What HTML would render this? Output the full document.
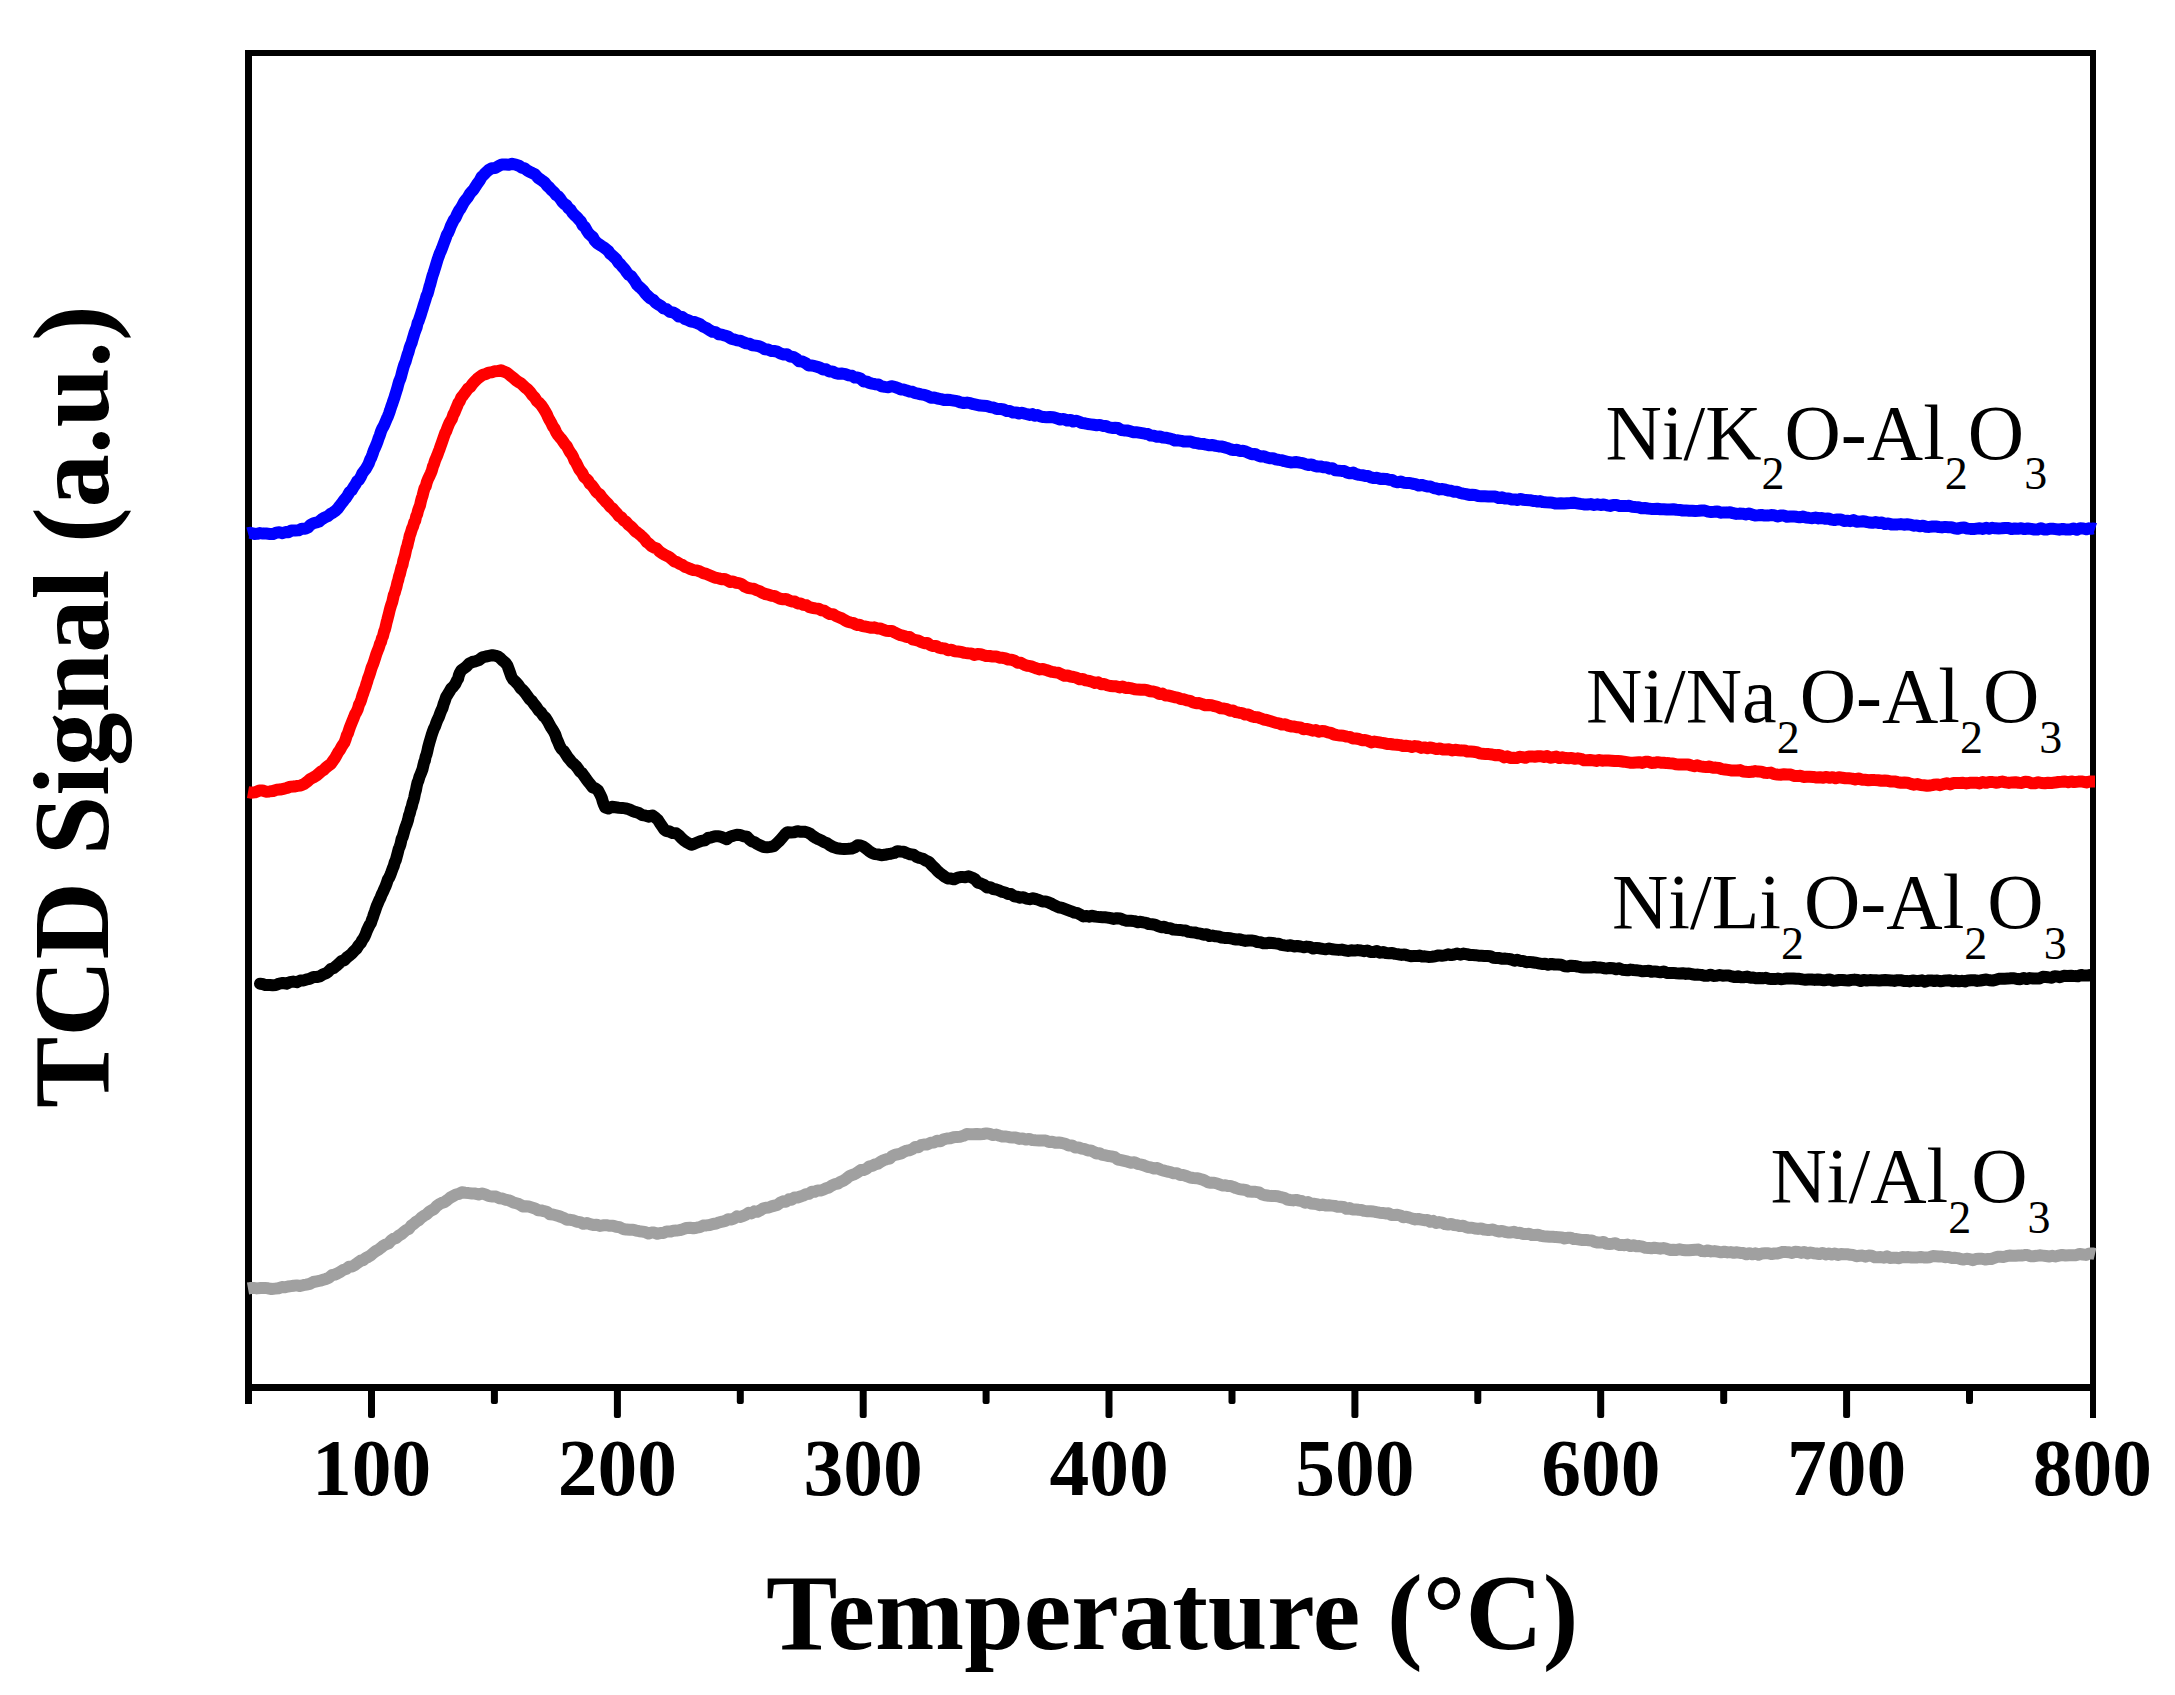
<!DOCTYPE html>
<html><head><meta charset="utf-8"><title>TCD Signal vs Temperature</title>
<style>html,body{margin:0;padding:0;background:#fff;}svg{display:block;}</style>
</head><body>
<svg width="2175" height="1695" viewBox="0 0 2175 1695">
<rect width="2175" height="1695" fill="#fff"/>
<g fill="#000">
<rect x="245" y="50" width="7" height="1354"/>
<rect x="245" y="50" width="1851" height="6"/>
<rect x="2090" y="50" width="6" height="1368"/>
<rect x="245" y="1384" width="1851" height="7"/>
<rect x="368.0" y="1388" width="7" height="30" rx="2"/>
<rect x="613.9" y="1388" width="7" height="30" rx="2"/>
<rect x="859.7" y="1388" width="7" height="30" rx="2"/>
<rect x="1105.5" y="1388" width="7" height="30" rx="2"/>
<rect x="1351.4" y="1388" width="7" height="30" rx="2"/>
<rect x="1597.2" y="1388" width="7" height="30" rx="2"/>
<rect x="1843.1" y="1388" width="7" height="30" rx="2"/>
<rect x="490.9" y="1388" width="7" height="16" rx="2"/>
<rect x="736.8" y="1388" width="7" height="16" rx="2"/>
<rect x="982.6" y="1388" width="7" height="16" rx="2"/>
<rect x="1228.5" y="1388" width="7" height="16" rx="2"/>
<rect x="1474.3" y="1388" width="7" height="16" rx="2"/>
<rect x="1720.2" y="1388" width="7" height="16" rx="2"/>
<rect x="1966.0" y="1388" width="7" height="16" rx="2"/>
</g>
<path d="M248.0,1288.5 L250.2,1288.1 L253.3,1287.9 L256.9,1288.4 L260.8,1288.0 L264.6,1287.9 L268.0,1288.3 L271.6,1289.0 L275.1,1288.6 L278.5,1288.2 L281.8,1287.1 L285.0,1287.3 L288.0,1286.5 L290.9,1286.1 L293.7,1285.7 L296.7,1285.4 L300.0,1286.0 L303.1,1285.2 L306.3,1284.6 L309.8,1283.8 L313.3,1282.0 L316.8,1281.3 L320.2,1280.7 L323.1,1279.8 L326.0,1278.9 L328.9,1277.7 L331.8,1275.2 L334.7,1274.6 L337.6,1273.4 L340.5,1271.7 L343.4,1269.8 L346.3,1268.8 L349.2,1266.7 L352.0,1266.5 L354.9,1264.9 L357.8,1262.7 L360.7,1260.7 L363.2,1260.1 L365.7,1258.0 L368.3,1256.9 L370.8,1255.2 L373.3,1253.0 L375.8,1251.1 L378.4,1249.7 L380.9,1247.8 L383.4,1245.7 L386.0,1244.3 L388.5,1243.4 L391.1,1240.5 L393.6,1238.8 L396.1,1238.0 L398.7,1235.7 L401.2,1234.3 L403.7,1232.2 L406.3,1230.0 L408.8,1229.0 L411.3,1225.7 L413.8,1223.9 L416.4,1221.5 L418.9,1220.2 L421.4,1217.6 L423.9,1215.8 L426.4,1214.5 L429.0,1211.9 L431.5,1210.4 L434.0,1209.1 L436.6,1206.1 L439.1,1204.3 L441.6,1203.0 L444.5,1202.0 L447.4,1200.0 L450.3,1197.6 L453.1,1196.1 L456.0,1194.5 L458.9,1193.8 L461.8,1192.3 L465.2,1192.8 L468.6,1193.1 L472.0,1193.5 L475.3,1193.6 L478.7,1194.5 L482.1,1193.5 L485.5,1194.5 L489.0,1196.1 L492.5,1196.5 L495.9,1196.6 L499.2,1198.2 L502.3,1198.5 L505.5,1199.8 L508.2,1200.1 L510.8,1201.1 L513.8,1202.7 L517.5,1203.5 L520.0,1204.7 L522.7,1206.4 L525.6,1206.2 L528.7,1206.5 L531.8,1207.4 L535.0,1208.4 L538.1,1210.2 L541.1,1210.4 L544.0,1211.2 L547.0,1211.8 L550.0,1214.3 L552.9,1214.5 L555.7,1215.2 L558.5,1216.0 L561.3,1217.0 L564.1,1218.1 L567.0,1219.8 L570.3,1219.8 L573.6,1220.4 L576.9,1221.8 L580.1,1222.1 L583.4,1223.8 L586.7,1223.0 L590.0,1224.1 L593.3,1225.0 L596.6,1224.7 L599.9,1225.9 L603.1,1225.3 L606.4,1225.2 L609.7,1225.8 L613.0,1225.7 L616.3,1226.8 L619.7,1227.2 L623.1,1229.0 L626.5,1229.6 L629.8,1229.8 L633.0,1229.7 L636.0,1230.6 L639.3,1231.2 L642.5,1231.6 L645.5,1232.2 L648.5,1233.6 L651.3,1232.6 L654.2,1232.6 L657.4,1233.8 L660.5,1232.9 L663.5,1233.0 L666.7,1231.4 L670.3,1231.6 L673.2,1230.8 L676.4,1230.6 L679.7,1230.1 L683.1,1229.2 L686.5,1228.0 L690.0,1227.7 L693.3,1228.2 L696.6,1227.7 L699.9,1227.1 L703.1,1225.6 L706.4,1225.4 L709.7,1225.0 L713.0,1224.0 L716.3,1223.5 L719.2,1222.3 L722.2,1221.7 L725.2,1220.9 L728.1,1219.3 L731.1,1219.5 L734.1,1218.6 L737.1,1216.3 L740.0,1216.9 L742.9,1216.0 L745.8,1214.7 L748.7,1212.8 L751.5,1213.4 L754.4,1211.3 L757.3,1211.8 L760.1,1210.4 L763.0,1208.5 L765.9,1207.7 L768.8,1207.5 L771.6,1206.4 L774.5,1205.6 L777.4,1204.9 L780.2,1202.7 L783.1,1201.3 L786.0,1201.8 L788.9,1199.3 L791.8,1199.7 L794.6,1197.4 L797.5,1197.5 L800.4,1196.5 L803.2,1195.6 L806.1,1194.1 L809.0,1193.7 L811.9,1191.7 L814.8,1191.7 L817.6,1190.4 L820.5,1190.6 L823.4,1189.6 L826.2,1188.3 L829.1,1187.4 L832.0,1185.4 L834.9,1184.1 L837.8,1183.6 L840.6,1181.8 L843.5,1180.7 L846.4,1178.6 L849.2,1176.2 L852.1,1174.9 L855.0,1174.0 L857.9,1172.2 L860.8,1170.1 L863.6,1170.1 L866.5,1168.8 L869.4,1166.3 L872.2,1165.8 L875.1,1164.3 L878.0,1163.7 L880.9,1161.6 L883.8,1160.1 L886.6,1159.2 L889.5,1158.7 L892.4,1155.9 L895.2,1154.7 L898.1,1154.3 L901.0,1153.5 L903.9,1151.8 L906.8,1150.6 L909.6,1150.2 L912.5,1149.0 L915.4,1146.9 L918.2,1147.2 L921.1,1145.2 L924.0,1144.5 L927.3,1144.4 L930.6,1142.8 L933.9,1142.6 L937.1,1140.8 L940.4,1141.2 L943.7,1139.3 L947.0,1138.5 L950.3,1138.3 L953.6,1137.3 L956.9,1136.9 L960.1,1136.7 L963.4,1135.8 L966.7,1134.1 L970.0,1134.2 L973.3,1134.3 L976.6,1134.0 L979.9,1134.3 L983.1,1134.0 L986.4,1133.4 L989.7,1133.9 L993.0,1135.1 L996.3,1134.6 L999.6,1135.7 L1002.9,1136.6 L1006.1,1136.5 L1009.4,1137.2 L1012.7,1137.6 L1016.0,1137.6 L1019.3,1138.9 L1022.6,1138.5 L1025.9,1139.6 L1029.1,1138.9 L1032.4,1140.1 L1035.7,1140.3 L1039.0,1140.4 L1042.3,1140.5 L1045.6,1140.5 L1048.9,1141.9 L1052.1,1141.8 L1055.4,1142.8 L1058.7,1142.5 L1062.0,1143.0 L1065.3,1143.8 L1068.6,1145.6 L1071.9,1145.4 L1075.1,1147.4 L1078.4,1147.4 L1081.7,1148.6 L1085.0,1149.2 L1087.9,1150.4 L1090.8,1150.4 L1093.6,1151.8 L1096.5,1153.5 L1099.4,1153.2 L1102.2,1154.9 L1105.1,1155.2 L1108.0,1156.0 L1111.3,1156.4 L1114.6,1157.2 L1117.9,1159.5 L1121.1,1160.1 L1124.4,1160.9 L1127.7,1161.7 L1131.0,1162.7 L1134.3,1162.3 L1137.6,1163.8 L1140.9,1164.5 L1144.1,1165.4 L1147.4,1166.8 L1150.7,1167.4 L1154.0,1168.5 L1157.3,1168.0 L1160.6,1169.7 L1163.9,1170.6 L1167.1,1171.5 L1170.4,1172.1 L1173.7,1173.3 L1177.0,1173.3 L1180.3,1175.1 L1183.6,1175.1 L1186.9,1176.2 L1190.1,1177.5 L1193.4,1178.0 L1196.7,1178.2 L1200.0,1178.9 L1203.0,1179.8 L1205.6,1181.0 L1208.2,1182.3 L1210.9,1182.8 L1214.1,1182.8 L1218.0,1183.8 L1223.0,1185.6 L1225.3,1185.3 L1227.7,1186.0 L1230.4,1186.0 L1233.2,1186.9 L1236.1,1188.1 L1239.2,1189.1 L1242.3,1189.6 L1245.6,1189.9 L1248.9,1191.6 L1252.2,1191.8 L1255.5,1191.8 L1258.9,1192.4 L1262.2,1194.5 L1265.5,1195.3 L1268.7,1195.8 L1271.8,1196.0 L1274.9,1196.1 L1277.8,1196.3 L1281.0,1197.2 L1284.1,1197.8 L1287.2,1199.5 L1290.2,1200.0 L1293.3,1200.4 L1296.2,1199.9 L1299.2,1200.6 L1302.1,1201.2 L1305.1,1202.8 L1308.0,1202.0 L1310.9,1203.5 L1313.8,1203.8 L1316.7,1204.1 L1319.7,1205.2 L1322.6,1204.6 L1325.6,1205.4 L1328.6,1205.3 L1331.6,1205.6 L1334.6,1205.9 L1337.5,1206.7 L1340.5,1206.8 L1343.5,1207.0 L1346.5,1208.8 L1349.5,1208.1 L1352.5,1209.4 L1355.5,1209.4 L1358.5,1209.8 L1361.4,1210.0 L1364.4,1210.9 L1367.4,1211.2 L1370.4,1211.3 L1373.4,1211.5 L1376.4,1212.2 L1379.4,1212.7 L1382.4,1212.9 L1385.4,1213.4 L1388.4,1213.3 L1391.4,1215.0 L1394.4,1214.9 L1397.4,1214.8 L1400.4,1215.5 L1403.3,1217.2 L1406.3,1216.8 L1409.3,1217.6 L1412.3,1218.6 L1415.3,1219.4 L1418.3,1219.0 L1421.3,1219.6 L1424.3,1220.2 L1427.3,1220.0 L1430.3,1221.8 L1433.2,1220.9 L1436.2,1222.9 L1439.2,1222.1 L1442.2,1222.6 L1445.1,1224.1 L1448.1,1224.5 L1451.1,1224.0 L1454.1,1225.0 L1457.1,1225.3 L1460.0,1226.1 L1463.0,1225.7 L1466.0,1227.1 L1469.0,1227.8 L1472.0,1227.7 L1475.0,1228.5 L1478.0,1228.9 L1481.0,1228.4 L1484.0,1229.5 L1487.0,1229.9 L1489.9,1229.9 L1492.9,1229.5 L1495.9,1230.7 L1498.9,1231.5 L1501.9,1230.9 L1504.9,1231.8 L1507.9,1232.5 L1510.9,1232.4 L1513.9,1231.8 L1516.9,1233.1 L1519.9,1232.8 L1522.9,1234.1 L1525.9,1234.1 L1528.9,1233.8 L1531.8,1235.1 L1534.8,1234.9 L1537.8,1234.8 L1540.8,1235.8 L1543.8,1236.2 L1546.8,1236.5 L1549.8,1236.8 L1552.8,1236.7 L1555.7,1237.1 L1558.7,1237.2 L1561.7,1237.4 L1564.7,1238.5 L1567.7,1237.8 L1570.7,1237.7 L1573.7,1239.1 L1576.7,1239.1 L1579.6,1239.6 L1582.6,1240.1 L1585.6,1239.9 L1588.6,1240.2 L1591.6,1240.4 L1594.6,1241.9 L1597.6,1242.5 L1600.5,1242.6 L1603.5,1242.0 L1606.5,1243.8 L1609.5,1243.9 L1612.5,1243.7 L1615.5,1243.2 L1618.5,1244.9 L1621.5,1244.9 L1624.5,1245.2 L1627.4,1244.6 L1630.4,1246.1 L1633.4,1245.3 L1636.4,1246.3 L1639.4,1246.1 L1642.4,1246.7 L1645.4,1247.8 L1648.3,1247.9 L1651.3,1248.3 L1654.3,1247.7 L1657.3,1248.1 L1660.3,1248.7 L1663.5,1248.0 L1666.7,1248.8 L1669.9,1249.9 L1673.1,1249.7 L1676.3,1250.0 L1679.5,1249.2 L1682.6,1250.0 L1685.8,1250.3 L1689.0,1250.3 L1692.2,1250.0 L1695.4,1249.7 L1698.6,1249.6 L1701.8,1251.1 L1704.9,1251.3 L1708.1,1250.4 L1711.3,1251.4 L1714.5,1251.1 L1717.7,1251.7 L1721.0,1252.3 L1724.2,1251.7 L1727.5,1252.4 L1730.7,1252.1 L1733.9,1252.8 L1737.1,1252.3 L1740.3,1252.9 L1743.4,1253.1 L1746.5,1254.3 L1749.4,1253.2 L1752.4,1254.3 L1755.2,1253.3 L1758.6,1254.8 L1761.9,1253.4 L1765.1,1253.2 L1768.2,1253.2 L1771.3,1254.1 L1774.3,1253.5 L1777.2,1253.6 L1780.1,1252.7 L1783.0,1251.9 L1786.0,1252.1 L1789.0,1252.2 L1792.0,1253.0 L1795.1,1251.7 L1798.1,1251.9 L1801.2,1252.9 L1804.2,1251.9 L1807.3,1253.4 L1810.4,1252.5 L1813.4,1253.2 L1816.5,1253.5 L1819.5,1254.1 L1822.6,1253.0 L1825.6,1254.4 L1828.7,1253.5 L1831.8,1254.5 L1834.8,1253.6 L1837.9,1254.9 L1841.0,1254.1 L1844.0,1254.3 L1847.1,1254.2 L1850.2,1254.8 L1853.2,1255.0 L1856.3,1256.2 L1859.4,1255.8 L1862.4,1255.5 L1865.5,1256.7 L1868.6,1255.5 L1871.6,1255.8 L1874.7,1257.2 L1877.8,1257.3 L1880.8,1257.1 L1883.9,1257.7 L1887.0,1256.4 L1890.0,1257.9 L1893.1,1257.8 L1896.2,1257.8 L1899.2,1258.2 L1902.3,1257.1 L1905.4,1257.2 L1908.4,1257.1 L1911.5,1257.5 L1914.5,1257.5 L1917.6,1257.4 L1920.6,1257.0 L1923.7,1257.4 L1926.8,1257.5 L1929.8,1257.2 L1932.9,1256.0 L1935.9,1256.2 L1939.0,1256.4 L1942.1,1256.5 L1945.1,1257.2 L1948.2,1256.9 L1951.3,1257.9 L1954.4,1257.7 L1957.5,1258.1 L1960.5,1259.0 L1963.6,1259.6 L1966.7,1258.7 L1969.8,1259.1 L1972.8,1260.3 L1975.9,1259.0 L1979.0,1258.7 L1982.0,1258.7 L1985.1,1259.5 L1988.1,1259.0 L1991.2,1259.0 L1994.3,1257.9 L1997.3,1256.7 L2000.4,1256.8 L2003.4,1257.0 L2006.5,1256.2 L2009.5,1255.5 L2012.6,1255.7 L2015.6,1255.7 L2018.6,1255.5 L2021.6,1255.6 L2024.5,1255.1 L2027.5,1255.0 L2030.4,1256.2 L2033.4,1256.2 L2036.5,1255.8 L2039.6,1255.3 L2042.8,1255.6 L2046.0,1256.0 L2049.4,1256.5 L2052.3,1255.8 L2055.4,1256.5 L2058.7,1255.7 L2062.1,1255.0 L2065.6,1255.5 L2069.2,1255.3 L2072.7,1255.2 L2076.2,1255.2 L2079.6,1254.0 L2082.9,1254.5 L2085.9,1254.9 L2088.7,1253.7 L2091.1,1253.4 L2093.3,1253.6 L2095.0,1254.0" fill="none" stroke="#a0a0a0" stroke-width="12" stroke-linejoin="round"/>
<path d="M260.0,983.7 L262.2,983.9 L265.5,985.1 L269.9,985.1 L272.6,985.3 L275.8,985.0 L279.2,983.6 L282.8,983.0 L286.4,983.7 L289.8,982.2 L293.2,981.6 L296.7,982.2 L300.2,980.6 L303.6,980.5 L306.8,979.3 L309.7,978.8 L313.5,977.1 L316.8,977.0 L319.8,976.4 L323.0,974.4 L325.7,973.4 L328.3,971.7 L331.0,968.9 L333.6,968.1 L336.3,965.9 L339.0,963.5 L341.7,961.0 L344.4,960.2 L347.0,957.4 L349.5,955.5 L351.9,953.4 L354.2,950.9 L356.5,948.8 L358.7,945.3 L360.8,943.0 L362.3,940.0 L363.8,938.0 L365.3,935.1 L366.8,930.9 L368.2,927.9 L369.5,925.1 L370.8,923.3 L372.0,919.7 L373.0,917.1 L374.0,913.8 L375.0,911.2 L376.0,908.2 L377.0,905.3 L378.1,902.8 L379.3,900.0 L380.5,897.7 L381.7,894.5 L383.0,892.0 L384.2,889.1 L385.5,886.4 L386.7,883.1 L387.9,879.4 L389.1,877.7 L390.3,875.0 L391.4,872.1 L392.6,868.7 L393.7,866.1 L394.7,862.4 L395.8,860.1 L396.8,856.4 L397.8,852.6 L398.7,848.9 L399.6,846.9 L400.6,843.8 L401.6,839.0 L402.7,836.8 L403.8,832.9 L404.8,829.2 L405.9,826.1 L406.9,823.5 L407.9,820.4 L408.9,815.7 L409.8,813.3 L410.8,809.1 L411.7,806.9 L412.6,802.9 L413.5,800.4 L414.3,797.1 L415.1,792.9 L415.9,790.3 L416.7,786.0 L417.5,782.6 L418.5,780.3 L419.5,776.6 L420.5,774.3 L421.5,771.9 L422.5,769.2 L423.3,765.6 L424.1,762.3 L424.9,760.5 L425.7,756.4 L426.6,754.2 L427.4,750.9 L428.2,747.0 L429.0,744.1 L429.8,741.2 L430.7,738.3 L431.6,735.2 L432.6,732.1 L433.7,729.1 L435.0,726.6 L436.3,722.8 L437.6,719.6 L438.9,717.0 L440.2,713.2 L441.4,710.2 L442.5,708.1 L443.6,704.1 L444.8,701.1 L446.0,697.2 L447.3,695.1 L449.1,692.2 L451.2,688.5 L453.2,686.7 L455.2,684.1 L456.8,680.7 L458.1,678.6 L458.8,675.5 L459.7,673.2 L461.4,670.1 L463.6,668.6 L466.3,666.7 L469.2,663.6 L472.3,662.0 L475.2,661.4 L478.8,660.1 L482.4,657.4 L485.9,656.5 L489.0,655.9 L492.4,655.2 L495.3,655.6 L498.2,656.7 L500.6,658.4 L503.1,660.9 L505.5,662.9 L507.4,665.5 L508.9,669.6 L509.8,672.1 L511.5,676.9 L513.3,679.8 L515.6,681.8 L518.1,684.5 L520.6,688.3 L523.0,690.2 L525.2,692.9 L527.4,696.0 L529.6,699.2 L531.8,701.0 L534.0,704.1 L536.3,706.9 L538.7,710.5 L541.1,712.6 L543.4,716.0 L545.5,717.7 L547.4,720.7 L549.2,724.0 L550.8,727.1 L552.3,729.2 L553.8,731.6 L555.4,734.8 L556.7,738.9 L558.1,741.8 L559.8,746.2 L561.5,749.0 L563.5,750.7 L565.5,753.6 L567.7,757.2 L569.9,759.7 L571.8,762.3 L573.9,764.0 L576.0,766.0 L578.0,768.6 L580.0,771.6 L581.8,772.9 L584.1,776.0 L586.1,778.9 L588.0,781.5 L590.1,784.1 L592.6,787.3 L595.4,788.3 L598.0,790.4 L600.2,794.5 L601.7,797.7 L602.8,801.7 L603.8,804.4 L605.3,807.6 L608.3,808.5 L611.8,806.8 L615.4,807.3 L618.8,807.7 L622.1,807.9 L625.5,808.4 L628.9,809.3 L632.2,810.8 L635.6,812.1 L639.0,813.1 L642.3,815.1 L645.7,815.7 L649.1,816.7 L652.5,815.5 L655.9,818.1 L657.9,819.9 L659.9,823.1 L662.0,826.2 L664.0,829.2 L666.0,830.8 L669.4,831.5 L672.7,833.1 L676.1,833.2 L678.7,835.2 L681.5,838.2 L684.0,840.3 L686.2,841.9 L691.3,844.7 L694.3,843.7 L697.8,842.3 L701.4,840.9 L704.8,840.3 L708.1,838.0 L711.5,837.3 L715.1,836.2 L718.6,836.2 L721.6,837.1 L726.7,839.3 L729.7,836.9 L733.2,835.7 L736.8,834.7 L740.2,834.9 L743.5,836.3 L746.9,836.7 L749.4,839.3 L752.0,841.5 L754.5,842.1 L757.0,843.9 L760.4,845.5 L763.7,847.0 L767.1,847.3 L770.5,846.9 L773.8,846.2 L777.2,843.0 L779.7,840.6 L782.3,837.6 L784.9,834.5 L787.4,832.2 L790.8,832.5 L794.1,832.3 L797.5,831.2 L800.8,831.8 L804.2,831.7 L807.6,832.5 L810.3,833.9 L813.0,836.1 L815.8,837.9 L818.6,839.3 L821.4,840.5 L824.1,842.1 L826.9,843.1 L829.7,845.1 L833.4,847.1 L837.0,848.2 L840.7,848.7 L844.4,849.0 L848.2,848.8 L851.7,848.5 L854.7,847.4 L857.6,845.2 L860.6,845.5 L863.2,846.5 L865.8,848.4 L868.6,850.7 L871.6,852.7 L874.7,854.1 L877.9,854.4 L881.3,855.2 L884.8,854.8 L887.8,854.1 L890.9,853.7 L894.2,853.0 L897.3,851.2 L900.3,851.5 L903.7,851.7 L906.9,853.2 L910.1,854.3 L913.5,854.7 L916.5,856.8 L919.8,858.0 L923.0,858.8 L926.2,860.8 L929.0,862.0 L932.1,865.5 L934.8,867.9 L937.4,870.9 L940.0,873.1 L942.6,875.0 L945.1,877.0 L947.8,878.4 L951.0,878.6 L954.1,879.3 L957.7,877.6 L961.5,876.9 L965.2,877.3 L968.7,876.3 L971.9,877.5 L975.0,879.3 L978.0,882.7 L981.1,883.6 L984.1,885.0 L987.2,887.5 L990.2,887.2 L993.2,889.0 L996.4,889.5 L999.6,890.7 L1002.4,891.9 L1005.2,892.5 L1008.0,894.0 L1011.0,894.0 L1014.1,896.3 L1017.3,896.8 L1020.2,897.7 L1023.3,897.2 L1026.4,898.6 L1029.6,899.2 L1032.9,898.2 L1036.1,899.1 L1039.3,900.2 L1042.5,901.5 L1045.6,901.6 L1048.8,902.6 L1051.9,903.9 L1055.1,905.7 L1058.2,907.2 L1061.4,907.7 L1064.6,908.9 L1067.9,910.1 L1071.2,911.3 L1074.4,912.6 L1077.6,913.2 L1080.6,914.8 L1083.5,916.4 L1086.8,916.0 L1089.5,916.7 L1092.1,915.7 L1095.4,916.6 L1100.0,917.1 L1102.4,917.2 L1105.0,917.3 L1107.7,917.6 L1110.7,918.2 L1113.7,918.9 L1116.9,918.2 L1120.3,918.5 L1123.7,920.0 L1127.1,920.8 L1130.7,920.7 L1134.2,921.1 L1137.8,922.2 L1140.5,921.8 L1143.3,922.4 L1146.1,922.9 L1149.0,924.1 L1152.0,924.3 L1155.0,924.7 L1158.0,926.1 L1161.1,927.2 L1164.1,926.8 L1167.2,928.1 L1170.3,928.3 L1173.4,929.6 L1176.5,929.8 L1179.6,929.9 L1182.6,930.4 L1185.6,930.6 L1188.6,931.9 L1191.6,932.2 L1194.6,932.4 L1197.5,933.2 L1200.5,933.6 L1203.5,934.8 L1206.5,934.2 L1209.5,936.0 L1212.5,935.6 L1215.5,936.3 L1218.5,936.5 L1221.4,937.5 L1224.4,937.9 L1227.4,937.9 L1230.4,938.2 L1233.4,939.0 L1236.4,939.6 L1239.4,939.2 L1242.4,940.2 L1245.4,940.9 L1248.4,940.5 L1251.4,940.5 L1254.4,940.9 L1257.4,942.0 L1260.4,942.3 L1263.3,943.2 L1266.3,943.3 L1269.3,942.7 L1272.3,943.0 L1275.3,943.4 L1278.3,943.7 L1281.3,944.8 L1284.5,945.4 L1287.7,945.9 L1290.8,945.2 L1294.0,946.5 L1297.2,946.0 L1300.4,946.5 L1303.6,947.3 L1306.7,946.6 L1309.9,947.0 L1313.1,948.5 L1316.3,947.9 L1319.5,948.3 L1322.6,948.9 L1325.8,949.3 L1329.0,948.5 L1332.2,949.3 L1335.4,949.6 L1338.6,949.9 L1341.8,949.6 L1345.0,950.3 L1348.2,951.0 L1351.3,950.3 L1354.5,950.6 L1357.7,950.1 L1360.9,950.5 L1364.1,951.2 L1367.3,950.5 L1370.5,951.9 L1373.7,952.1 L1376.9,951.1 L1379.9,952.7 L1383.0,952.0 L1386.0,953.0 L1389.1,953.3 L1392.2,952.9 L1395.4,953.9 L1398.5,954.3 L1401.6,954.9 L1404.6,954.4 L1407.7,955.5 L1410.7,956.2 L1413.6,956.0 L1416.5,956.1 L1419.3,955.6 L1422.0,956.4 L1424.7,956.3 L1428.4,956.9 L1431.9,956.7 L1435.3,956.3 L1438.6,955.4 L1441.8,955.8 L1444.9,955.4 L1448.0,954.3 L1451.1,955.1 L1454.1,954.5 L1457.3,953.5 L1460.5,954.8 L1463.5,953.6 L1466.5,954.1 L1469.5,954.9 L1472.5,955.0 L1475.5,955.2 L1478.4,955.7 L1481.4,955.7 L1484.4,955.9 L1487.4,956.1 L1490.4,956.3 L1493.4,957.7 L1496.4,958.1 L1499.4,958.1 L1502.4,958.8 L1505.4,958.6 L1508.4,958.9 L1511.4,959.5 L1514.4,960.7 L1517.3,959.8 L1520.3,961.0 L1523.3,961.0 L1526.3,962.2 L1529.3,961.9 L1532.3,962.2 L1535.5,962.7 L1538.7,963.3 L1541.9,964.0 L1545.1,963.7 L1548.2,964.8 L1551.4,963.9 L1554.6,964.5 L1557.9,964.5 L1561.2,964.8 L1564.6,966.2 L1568.1,966.4 L1571.1,965.7 L1574.3,965.9 L1577.5,966.5 L1580.7,967.2 L1584.0,967.5 L1587.4,967.6 L1590.7,967.6 L1594.0,967.0 L1597.3,967.6 L1600.6,967.5 L1603.8,968.2 L1607.0,968.4 L1610.0,968.0 L1613.2,968.3 L1616.2,969.3 L1619.2,968.3 L1622.1,969.7 L1624.9,970.0 L1627.7,970.3 L1630.6,969.6 L1633.5,970.0 L1636.4,970.3 L1639.5,970.6 L1642.7,971.3 L1646.0,971.1 L1648.8,970.7 L1651.6,971.8 L1654.6,971.4 L1657.5,971.8 L1660.6,972.3 L1663.7,971.4 L1666.8,972.9 L1670.0,972.9 L1673.1,972.9 L1676.3,973.2 L1679.5,973.4 L1682.6,973.2 L1685.8,973.9 L1688.9,973.4 L1692.0,974.3 L1695.1,974.7 L1698.1,974.6 L1701.2,974.9 L1704.3,975.7 L1707.3,975.8 L1710.4,974.7 L1713.5,975.9 L1716.5,975.8 L1719.6,975.0 L1722.7,975.7 L1725.7,975.6 L1728.8,975.5 L1731.9,976.4 L1734.9,977.1 L1738.0,976.3 L1741.1,977.3 L1744.1,977.2 L1747.2,976.5 L1750.3,977.8 L1753.3,977.6 L1756.4,978.3 L1759.5,978.1 L1762.5,978.3 L1765.6,977.8 L1768.7,978.7 L1771.7,979.1 L1774.8,979.1 L1777.9,978.6 L1780.9,979.2 L1784.0,978.9 L1787.1,978.4 L1790.1,978.4 L1793.2,978.5 L1796.3,978.8 L1799.3,978.8 L1802.4,979.4 L1805.5,979.8 L1808.5,979.6 L1811.6,979.5 L1814.7,979.9 L1817.7,979.5 L1820.8,979.8 L1823.9,980.3 L1826.9,979.8 L1830.0,979.5 L1833.1,980.7 L1836.1,980.5 L1839.2,980.0 L1842.3,980.0 L1845.3,980.3 L1848.4,980.5 L1851.5,979.9 L1854.5,979.6 L1857.6,980.0 L1860.7,981.0 L1863.7,980.0 L1866.8,980.5 L1869.9,980.1 L1872.9,980.2 L1876.0,980.2 L1879.1,980.6 L1882.1,980.2 L1885.2,980.1 L1888.3,980.2 L1891.3,980.4 L1894.4,980.9 L1897.5,980.2 L1900.5,980.2 L1903.6,980.9 L1906.7,980.9 L1909.7,981.4 L1912.8,980.4 L1915.9,980.9 L1918.9,980.9 L1922.0,980.3 L1925.1,981.8 L1928.1,980.6 L1931.2,980.4 L1934.3,981.0 L1937.3,980.5 L1940.4,981.3 L1943.5,980.8 L1946.5,980.4 L1949.6,980.3 L1952.7,981.3 L1955.7,980.6 L1958.8,981.3 L1961.9,980.8 L1964.9,981.5 L1968.0,980.4 L1971.1,980.2 L1974.1,980.2 L1977.2,980.9 L1980.3,980.5 L1983.3,980.0 L1986.4,979.5 L1989.5,980.3 L1992.5,980.6 L1995.6,979.9 L1998.7,978.8 L2001.7,978.7 L2004.8,978.7 L2007.9,978.6 L2010.9,978.3 L2014.0,978.2 L2017.1,979.0 L2020.3,979.3 L2023.5,978.0 L2026.7,979.1 L2029.9,978.1 L2033.2,978.5 L2036.4,978.5 L2039.6,978.4 L2042.8,976.8 L2045.9,977.0 L2048.9,977.4 L2051.8,977.7 L2054.7,976.2 L2057.4,976.4 L2060.0,977.2 L2063.8,975.8 L2067.5,976.0 L2071.1,975.7 L2074.6,976.1 L2077.9,976.3 L2080.9,974.9 L2083.7,975.6 L2086.2,975.5 L2088.3,975.5 L2090.0,974.9" fill="none" stroke="#000" stroke-width="12" stroke-linejoin="round" stroke-linecap="round"/>
<path d="M248.0,792.2 L250.8,792.7 L254.9,792.3 L259.2,790.6 L262.5,790.5 L265.9,791.7 L269.5,791.4 L273.0,791.0 L276.4,789.8 L279.9,789.6 L283.4,788.8 L286.8,788.0 L290.4,786.7 L294.0,786.6 L297.5,785.9 L300.6,785.6 L304.1,784.1 L307.1,781.8 L309.8,779.3 L313.2,777.5 L316.4,775.6 L318.7,773.6 L321.0,771.6 L323.6,769.9 L325.8,767.7 L328.3,765.7 L330.8,764.0 L333.4,760.3 L334.9,758.2 L336.6,755.3 L338.2,752.3 L339.9,750.0 L341.5,746.9 L342.9,744.7 L344.3,742.8 L345.7,739.2 L346.8,735.4 L347.9,733.4 L348.9,730.2 L350.0,727.0 L351.1,724.3 L352.4,721.0 L353.7,717.9 L355.1,714.2 L356.4,712.1 L357.8,709.0 L359.0,704.7 L360.2,702.5 L361.3,699.4 L362.3,695.9 L363.4,693.0 L364.4,689.9 L365.4,687.5 L366.4,683.9 L367.2,681.7 L368.1,678.3 L369.0,676.2 L370.1,672.9 L371.4,668.3 L372.3,666.0 L373.2,663.9 L374.3,660.6 L375.4,657.2 L376.5,653.6 L377.7,650.5 L378.8,647.9 L380.0,643.8 L381.0,641.9 L382.0,638.0 L382.9,636.3 L384.0,631.8 L384.9,629.6 L385.8,626.0 L386.5,622.7 L387.3,619.8 L388.0,617.0 L388.8,614.0 L389.6,610.5 L390.5,607.2 L391.3,604.6 L392.2,602.2 L393.0,598.6 L393.9,594.7 L394.8,592.8 L395.6,589.6 L396.5,586.8 L397.4,582.5 L398.2,580.3 L399.1,576.1 L399.9,574.0 L400.8,570.2 L401.6,567.1 L402.5,565.0 L403.3,560.7 L404.1,558.2 L404.9,555.5 L405.8,551.2 L406.6,547.9 L407.4,545.8 L408.2,542.0 L408.9,539.5 L409.7,535.8 L410.9,532.4 L412.0,528.7 L413.1,526.4 L414.2,522.4 L415.2,520.7 L416.2,516.2 L417.2,514.3 L418.1,510.3 L419.1,507.7 L420.0,505.5 L420.9,501.3 L421.7,498.2 L422.6,495.7 L423.5,491.9 L424.6,488.0 L425.7,486.5 L426.8,482.2 L428.1,478.9 L429.4,476.3 L430.6,473.6 L431.8,470.7 L432.9,466.6 L434.0,463.9 L435.1,460.4 L436.1,458.0 L437.2,455.5 L438.3,452.4 L439.4,449.6 L440.5,446.3 L441.6,443.4 L442.7,440.1 L443.9,436.6 L445.1,433.2 L446.4,430.8 L447.7,427.1 L449.1,423.7 L450.5,421.1 L451.9,418.8 L453.3,414.6 L454.6,412.4 L455.9,409.0 L457.1,406.3 L458.4,402.8 L459.7,401.4 L461.1,397.8 L463.3,395.1 L465.6,391.9 L468.0,388.7 L470.3,387.0 L472.6,383.8 L474.9,381.2 L477.2,378.9 L479.5,377.2 L482.6,374.9 L485.6,374.2 L488.7,372.6 L491.8,372.2 L494.8,371.3 L497.9,371.1 L501.0,370.3 L504.0,371.7 L507.1,372.9 L510.2,375.4 L513.2,377.7 L516.3,380.5 L518.6,382.1 L520.9,383.3 L523.2,385.5 L525.5,387.8 L527.8,389.4 L530.1,392.0 L532.4,395.3 L534.7,397.6 L537.0,401.2 L539.2,403.0 L541.5,405.6 L543.9,409.2 L545.3,411.6 L546.8,414.2 L548.2,417.5 L549.7,420.3 L551.3,423.0 L552.9,426.5 L554.6,428.7 L556.2,432.3 L557.8,434.9 L559.5,436.9 L561.3,438.9 L563.1,441.5 L564.9,444.2 L566.7,446.0 L568.4,449.3 L569.9,452.0 L571.5,454.1 L573.0,456.7 L574.5,460.6 L576.1,462.7 L577.6,465.7 L579.1,469.0 L580.7,471.1 L582.2,473.0 L584.1,476.9 L586.0,478.5 L587.9,480.3 L589.8,483.7 L591.7,485.2 L593.8,487.9 L596.0,491.3 L597.8,493.2 L599.8,494.4 L601.8,497.4 L603.9,499.6 L606.0,502.0 L608.1,503.9 L610.2,506.8 L612.3,508.2 L614.4,510.7 L616.7,513.1 L619.0,516.3 L621.3,517.1 L623.6,520.4 L625.9,521.6 L628.2,524.4 L630.5,526.2 L632.8,528.4 L635.1,531.1 L637.4,532.6 L639.7,534.4 L641.9,536.5 L644.2,538.6 L646.5,541.8 L648.8,543.5 L651.1,545.8 L653.8,547.5 L656.6,548.4 L659.4,551.3 L662.2,553.3 L664.8,554.9 L667.3,556.1 L669.5,557.3 L672.2,559.4 L674.1,561.3 L676.2,561.8 L680.0,564.0 L682.2,564.9 L684.7,566.7 L687.4,567.6 L690.4,569.0 L693.5,570.1 L696.7,570.4 L700.0,571.5 L703.2,573.1 L706.4,573.9 L709.4,575.2 L712.3,576.5 L715.3,577.8 L718.2,578.1 L721.2,579.3 L724.1,578.9 L727.0,580.1 L730.0,582.0 L732.9,581.4 L735.9,582.7 L738.8,583.1 L741.7,584.1 L744.7,586.5 L747.6,587.8 L750.6,588.4 L753.5,588.7 L756.5,590.1 L759.5,591.1 L762.4,592.9 L765.4,594.0 L768.3,594.6 L771.2,595.7 L774.2,595.9 L777.1,597.4 L780.1,598.8 L783.0,599.2 L785.9,598.9 L788.9,600.4 L791.8,601.5 L794.8,601.6 L797.7,603.4 L800.6,603.6 L803.6,604.9 L806.5,605.3 L809.5,607.2 L812.4,607.8 L815.3,608.4 L818.3,608.7 L821.2,610.2 L824.2,610.6 L827.1,612.6 L830.0,614.1 L833.0,614.2 L835.9,616.0 L838.9,617.2 L841.8,618.4 L844.7,620.1 L847.7,621.7 L850.6,622.5 L853.6,623.2 L856.5,624.9 L859.4,624.7 L862.4,626.1 L865.3,626.5 L868.3,627.2 L871.2,627.8 L874.2,627.3 L877.2,628.4 L880.1,628.5 L883.1,629.6 L886.0,630.8 L888.9,631.0 L891.9,630.9 L894.8,632.6 L897.8,633.9 L900.7,635.2 L903.6,635.8 L906.6,637.1 L909.5,636.9 L912.5,639.3 L915.4,640.0 L918.3,640.7 L921.3,642.2 L924.2,643.2 L927.2,642.9 L930.1,645.0 L933.0,645.9 L936.0,645.9 L938.9,647.7 L941.9,648.3 L944.8,648.4 L948.1,650.2 L951.4,649.8 L954.7,651.3 L958.1,651.6 L961.4,651.9 L964.7,652.9 L967.9,653.3 L971.1,653.4 L974.2,655.0 L977.5,654.1 L980.6,654.3 L983.7,655.3 L986.6,656.1 L989.7,656.0 L992.9,656.6 L996.3,656.6 L1000.0,657.7 L1002.7,657.8 L1005.5,658.4 L1008.4,659.6 L1011.5,659.7 L1014.6,660.7 L1017.7,662.7 L1020.9,662.8 L1024.1,664.7 L1027.3,665.7 L1030.5,666.1 L1033.7,667.4 L1036.8,668.5 L1039.9,669.4 L1042.9,669.0 L1046.0,669.9 L1049.1,671.0 L1052.1,671.9 L1055.2,672.4 L1058.3,672.7 L1061.3,674.3 L1064.4,675.7 L1067.5,675.5 L1070.5,676.5 L1073.6,677.0 L1076.7,677.8 L1079.7,679.3 L1082.8,679.1 L1085.8,680.4 L1088.9,680.9 L1092.0,681.7 L1095.0,683.0 L1098.1,682.3 L1101.1,684.2 L1104.2,684.0 L1107.2,685.2 L1110.3,686.0 L1113.4,686.3 L1116.4,686.3 L1119.5,687.4 L1122.6,686.6 L1125.6,687.9 L1128.7,687.8 L1131.8,688.4 L1134.8,689.3 L1137.9,689.6 L1141.0,689.8 L1144.0,689.7 L1147.1,690.2 L1150.2,691.2 L1153.2,691.5 L1156.3,692.3 L1159.4,694.1 L1162.4,693.6 L1165.5,695.5 L1168.6,695.6 L1171.6,696.4 L1174.7,697.2 L1177.8,697.6 L1180.8,699.0 L1183.9,699.3 L1187.0,700.4 L1190.0,700.9 L1193.1,702.5 L1196.2,703.2 L1199.2,703.1 L1202.3,704.1 L1205.4,705.3 L1208.4,705.0 L1211.5,705.3 L1214.6,706.2 L1217.6,706.8 L1220.7,708.3 L1223.8,708.5 L1226.8,709.2 L1229.9,710.7 L1233.0,710.6 L1236.0,712.2 L1239.1,712.7 L1242.2,713.1 L1245.2,714.6 L1248.3,714.6 L1251.4,716.2 L1254.4,717.1 L1257.5,717.2 L1260.6,718.3 L1263.6,719.5 L1266.7,720.0 L1269.8,720.9 L1272.8,721.9 L1275.9,722.9 L1279.0,723.4 L1282.0,724.6 L1285.1,724.3 L1288.2,725.6 L1291.2,726.4 L1294.3,726.6 L1297.4,727.3 L1300.4,727.5 L1303.5,729.3 L1306.5,728.9 L1309.6,729.6 L1312.7,730.7 L1315.7,730.1 L1318.8,731.8 L1321.8,731.0 L1324.9,731.3 L1327.9,732.4 L1331.0,733.0 L1334.1,734.5 L1337.2,735.1 L1340.3,735.6 L1343.4,735.8 L1346.6,736.6 L1349.7,736.9 L1352.8,738.5 L1355.9,738.5 L1358.9,739.0 L1361.9,740.2 L1364.9,740.0 L1367.8,740.8 L1371.2,742.4 L1374.5,741.6 L1377.7,742.1 L1380.8,742.7 L1383.9,743.2 L1387.0,743.9 L1390.1,744.0 L1393.3,744.5 L1396.6,744.7 L1400.0,745.1 L1402.9,746.0 L1405.9,745.8 L1408.9,746.1 L1411.9,747.0 L1415.0,746.1 L1418.1,746.5 L1421.2,747.9 L1424.4,747.4 L1427.5,748.2 L1430.6,747.4 L1433.7,748.3 L1436.8,749.1 L1439.9,748.5 L1442.9,749.4 L1446.0,749.4 L1449.1,749.3 L1452.1,750.5 L1455.2,749.8 L1458.3,750.2 L1461.3,750.6 L1464.4,750.4 L1467.5,751.6 L1470.5,751.5 L1473.6,751.8 L1476.7,752.2 L1479.7,753.3 L1482.8,753.8 L1485.8,754.1 L1488.9,754.1 L1492.0,754.5 L1495.0,755.2 L1498.1,755.0 L1501.1,755.6 L1504.2,757.4 L1507.2,756.3 L1510.3,757.9 L1513.4,757.7 L1516.4,758.1 L1519.5,756.8 L1522.6,757.1 L1525.6,757.8 L1528.7,756.4 L1531.8,756.4 L1534.8,756.7 L1537.9,756.3 L1541.0,756.2 L1544.0,757.0 L1547.1,756.1 L1550.2,757.7 L1553.2,757.3 L1556.3,756.5 L1559.4,758.1 L1562.4,757.3 L1565.5,758.0 L1568.6,758.3 L1571.6,757.9 L1574.7,758.8 L1577.8,758.3 L1580.8,758.8 L1583.9,760.2 L1587.0,760.2 L1590.0,760.0 L1593.1,760.4 L1596.2,760.9 L1599.2,760.0 L1602.3,760.7 L1605.4,760.4 L1608.4,760.5 L1611.5,760.7 L1614.6,761.0 L1617.6,760.9 L1620.7,761.3 L1623.8,761.7 L1626.8,762.2 L1629.9,762.7 L1633.0,762.8 L1636.0,762.5 L1639.1,762.2 L1642.2,762.9 L1645.2,761.8 L1648.3,761.7 L1651.4,763.0 L1654.4,762.8 L1657.5,762.2 L1660.6,762.7 L1663.6,762.7 L1666.7,763.1 L1669.8,763.3 L1672.8,763.4 L1675.9,764.3 L1679.0,764.5 L1682.0,764.4 L1685.1,764.5 L1688.2,764.5 L1691.2,765.5 L1694.3,766.2 L1697.4,765.3 L1700.4,766.4 L1703.5,766.8 L1706.5,767.1 L1709.6,766.5 L1712.7,767.8 L1715.7,767.6 L1718.8,768.0 L1721.8,769.1 L1724.9,769.5 L1727.9,769.9 L1731.0,770.4 L1734.0,770.6 L1737.1,770.5 L1740.1,770.1 L1743.1,771.5 L1746.1,771.8 L1749.1,772.0 L1752.1,771.8 L1755.2,771.1 L1758.3,771.6 L1761.4,771.7 L1764.6,772.7 L1767.8,772.9 L1770.9,772.6 L1774.1,774.1 L1777.3,774.5 L1780.6,774.7 L1784.0,774.3 L1787.4,774.4 L1790.7,774.6 L1794.1,775.9 L1797.3,776.1 L1800.5,775.7 L1803.6,777.0 L1806.6,776.7 L1809.4,776.7 L1813.2,776.9 L1816.8,777.6 L1820.1,777.3 L1823.3,777.7 L1826.5,776.9 L1829.5,777.8 L1832.6,777.2 L1835.7,778.3 L1838.9,777.3 L1842.2,777.7 L1845.4,778.2 L1848.7,778.2 L1852.0,778.6 L1855.2,779.4 L1858.5,778.5 L1861.8,779.7 L1865.0,779.8 L1868.3,780.2 L1871.6,779.9 L1874.8,780.1 L1878.1,780.2 L1881.4,780.7 L1884.6,780.6 L1887.9,780.8 L1891.2,781.6 L1894.4,781.4 L1897.7,782.2 L1901.0,782.7 L1904.2,782.6 L1907.5,782.8 L1910.8,783.9 L1914.0,784.7 L1917.3,784.1 L1920.6,785.0 L1923.8,785.3 L1927.1,785.8 L1930.4,785.5 L1933.6,784.8 L1936.9,784.4 L1940.2,785.2 L1943.4,784.1 L1946.7,783.3 L1950.0,784.4 L1953.2,783.1 L1956.5,783.1 L1959.8,783.0 L1963.1,782.8 L1966.3,783.4 L1969.6,782.8 L1972.9,782.8 L1976.2,782.7 L1979.4,783.4 L1982.7,782.0 L1986.0,782.8 L1989.3,782.0 L1992.5,782.0 L1995.8,782.7 L1999.1,782.2 L2002.3,781.6 L2005.6,782.4 L2008.9,782.9 L2012.1,782.4 L2015.4,782.2 L2018.7,782.7 L2021.9,782.9 L2025.2,781.8 L2028.5,782.1 L2031.7,783.3 L2035.0,783.3 L2038.3,782.2 L2041.5,783.0 L2044.8,783.3 L2048.1,782.8 L2051.5,782.9 L2054.9,782.6 L2058.3,782.0 L2061.7,781.8 L2065.0,781.5 L2068.2,782.3 L2071.3,781.4 L2074.2,782.1 L2078.4,781.6 L2082.5,781.6 L2086.4,782.4 L2089.9,781.4 L2092.8,781.5 L2095.0,781.5" fill="none" stroke="#ff0000" stroke-width="12" stroke-linejoin="round"/>
<path d="M248.0,533.3 L250.1,532.7 L254.6,533.9 L257.0,533.8 L259.9,533.1 L263.1,533.6 L266.4,533.6 L269.8,533.9 L273.0,534.1 L276.1,532.7 L279.3,532.3 L282.5,533.2 L285.6,532.1 L288.6,532.2 L291.4,530.5 L295.2,530.5 L298.6,530.3 L301.9,528.7 L305.2,528.7 L308.0,527.5 L310.7,524.7 L313.5,523.2 L316.2,522.5 L319.0,521.6 L321.8,519.2 L324.7,517.5 L327.6,516.3 L330.3,514.1 L332.8,512.7 L335.4,510.8 L337.7,508.6 L339.9,505.6 L342.4,502.4 L344.1,500.1 L345.9,498.1 L347.8,495.1 L349.7,491.9 L351.6,490.4 L353.5,487.2 L355.3,484.6 L357.1,481.3 L358.9,479.9 L360.7,477.1 L362.4,473.3 L364.1,471.0 L365.7,469.0 L367.2,466.3 L368.7,463.6 L370.1,459.7 L371.4,457.3 L372.6,454.0 L373.8,450.4 L375.0,447.7 L376.2,445.1 L377.5,441.7 L378.7,437.9 L379.9,434.9 L381.1,431.1 L382.1,428.8 L383.8,425.9 L385.3,422.4 L387.0,418.2 L388.0,416.2 L389.0,413.5 L390.1,410.3 L391.3,406.5 L392.4,403.4 L393.4,400.3 L394.4,397.7 L395.4,394.2 L396.4,391.0 L397.3,388.1 L398.3,384.3 L399.2,381.3 L400.1,379.3 L401.0,376.6 L401.9,373.0 L402.8,369.6 L403.8,366.1 L404.7,363.6 L405.7,361.3 L406.6,357.9 L407.6,354.5 L408.6,351.9 L409.6,347.8 L410.6,345.2 L411.6,342.9 L412.6,339.2 L413.6,335.9 L414.6,332.6 L415.6,329.9 L416.6,327.5 L417.6,322.9 L418.6,321.1 L419.6,318.1 L420.6,315.2 L421.6,311.9 L422.6,308.9 L423.6,305.4 L424.6,302.4 L425.6,299.2 L426.6,295.6 L427.6,293.8 L428.6,290.1 L429.4,286.8 L430.2,284.5 L430.9,281.7 L431.7,278.7 L432.5,275.7 L433.5,272.9 L434.5,269.7 L435.4,266.9 L436.4,263.6 L437.5,259.8 L438.6,256.8 L439.7,253.5 L440.9,250.9 L442.0,248.2 L443.1,245.2 L444.1,242.5 L445.5,238.9 L446.9,234.8 L448.2,232.8 L449.5,229.7 L450.9,225.9 L452.4,222.8 L453.9,219.8 L455.5,217.9 L457.2,214.0 L458.9,210.7 L460.6,208.5 L462.5,205.0 L464.2,201.8 L466.1,199.3 L468.0,197.1 L469.9,193.8 L471.8,191.4 L473.7,189.5 L475.4,186.7 L477.6,183.3 L479.7,180.5 L481.6,176.9 L483.6,175.0 L485.5,172.9 L488.7,170.0 L491.8,168.2 L495.0,168.1 L498.4,166.1 L501.9,164.4 L505.7,164.5 L508.8,164.8 L512.1,163.8 L515.7,164.6 L519.5,166.0 L521.9,167.9 L524.4,168.2 L527.1,170.4 L529.8,171.8 L532.5,173.2 L535.2,174.5 L537.9,177.7 L540.2,179.3 L542.5,180.9 L544.8,182.6 L547.1,185.6 L549.4,187.6 L551.7,190.3 L554.0,192.3 L556.3,195.2 L558.3,196.4 L560.4,198.9 L562.4,202.0 L564.4,204.0 L566.4,205.2 L568.5,208.3 L570.5,209.7 L572.6,213.1 L574.7,215.2 L576.7,217.0 L578.7,219.3 L580.8,221.5 L582.8,225.6 L584.9,227.0 L587.0,230.9 L589.0,233.8 L591.0,235.6 L592.9,237.2 L594.6,240.3 L597.2,243.1 L599.5,244.6 L601.6,246.0 L603.7,247.3 L605.9,249.0 L608.4,251.1 L610.2,253.8 L612.2,255.4 L614.2,257.2 L616.3,259.3 L618.4,262.6 L620.5,264.4 L622.6,267.1 L624.7,269.2 L626.8,272.4 L628.8,274.8 L630.9,275.8 L632.9,278.6 L635.0,281.2 L637.0,284.7 L639.1,286.8 L641.1,288.4 L643.2,290.5 L645.2,293.3 L647.8,296.0 L650.5,298.5 L653.1,299.8 L655.7,302.7 L658.3,304.4 L661.0,305.9 L663.6,308.5 L666.7,309.2 L669.7,311.8 L672.8,312.3 L675.9,314.0 L678.9,316.6 L682.0,316.9 L685.1,319.1 L688.1,320.1 L691.1,321.6 L694.2,322.0 L697.2,323.1 L700.3,324.4 L703.4,326.8 L706.4,328.0 L709.5,330.2 L712.6,331.8 L715.6,332.1 L718.7,334.2 L721.8,334.6 L724.8,335.6 L727.9,336.5 L731.0,338.7 L734.0,339.4 L737.1,340.4 L740.2,340.7 L743.2,342.1 L746.3,343.4 L749.4,343.8 L752.4,345.2 L755.5,345.6 L758.6,346.2 L761.7,347.4 L764.8,349.2 L767.9,349.5 L771.0,350.9 L773.9,351.0 L777.3,351.7 L780.5,353.5 L783.7,354.5 L786.8,354.2 L790.0,356.5 L793.1,356.9 L796.1,358.5 L799.1,361.3 L802.4,361.5 L806.0,363.4 L808.5,365.5 L811.3,365.5 L814.1,365.9 L817.1,366.8 L820.1,367.8 L823.1,369.5 L826.1,369.3 L829.0,371.4 L832.3,371.4 L835.6,373.1 L838.9,373.8 L842.1,373.5 L845.4,374.2 L848.7,375.4 L852.0,375.8 L854.9,377.6 L857.8,377.6 L860.6,378.7 L863.5,381.4 L866.4,381.4 L869.2,382.9 L872.1,383.6 L875.0,384.2 L878.3,384.5 L881.6,386.4 L884.9,386.9 L888.1,387.2 L891.4,386.2 L894.7,386.8 L898.0,388.1 L900.9,389.4 L903.8,389.5 L906.6,390.6 L909.5,391.5 L912.4,391.8 L915.2,393.2 L918.1,393.7 L921.0,394.4 L924.3,394.9 L927.6,396.0 L930.9,397.8 L934.1,397.5 L937.4,398.5 L940.7,399.1 L944.0,400.1 L947.3,399.8 L950.6,400.1 L953.9,400.6 L957.1,401.1 L960.4,402.4 L963.7,403.0 L967.0,402.6 L970.3,403.2 L973.6,404.2 L976.9,404.9 L980.1,405.6 L983.4,405.8 L986.7,406.1 L990.0,407.1 L993.3,407.5 L996.7,408.9 L1000.2,408.9 L1003.6,409.5 L1006.9,411.1 L1010.0,411.1 L1013.0,412.5 L1016.4,412.5 L1019.1,413.5 L1021.8,412.7 L1025.2,413.7 L1030.0,414.9 L1032.3,414.1 L1034.8,415.8 L1037.6,415.0 L1040.4,416.4 L1043.5,417.1 L1046.6,417.3 L1049.9,417.0 L1053.2,417.2 L1056.6,418.3 L1060.1,419.5 L1063.6,419.0 L1067.1,420.6 L1070.6,419.9 L1073.3,421.6 L1076.1,420.7 L1078.9,421.6 L1081.8,423.0 L1084.7,423.3 L1087.7,424.0 L1090.6,424.4 L1093.7,424.8 L1096.7,425.2 L1099.7,424.9 L1102.8,425.9 L1105.9,426.0 L1108.9,427.4 L1112.0,427.9 L1115.0,427.8 L1118.0,428.0 L1121.0,430.0 L1124.0,430.4 L1127.0,430.5 L1129.9,431.1 L1132.9,432.2 L1135.9,432.2 L1138.9,432.7 L1141.9,433.2 L1144.9,433.7 L1147.8,434.0 L1150.8,435.6 L1153.8,435.8 L1156.8,436.7 L1159.8,436.5 L1162.8,437.5 L1165.8,437.7 L1168.7,438.3 L1171.7,439.0 L1174.9,440.5 L1178.0,440.3 L1181.1,440.8 L1184.3,441.6 L1187.4,441.4 L1190.6,441.5 L1193.7,442.7 L1196.8,443.1 L1200.0,443.8 L1203.1,443.9 L1206.3,444.7 L1209.4,445.3 L1212.5,445.0 L1215.7,445.9 L1218.8,446.4 L1222.0,446.6 L1225.0,447.4 L1228.0,448.3 L1230.9,449.5 L1233.9,450.1 L1236.9,449.8 L1239.9,451.1 L1242.9,450.8 L1245.9,451.6 L1248.9,453.0 L1251.9,454.3 L1254.9,453.9 L1257.9,455.5 L1260.9,456.4 L1263.8,456.2 L1266.8,457.5 L1269.8,458.3 L1272.8,458.2 L1275.8,459.3 L1278.8,459.9 L1281.7,460.2 L1284.7,461.2 L1287.7,461.8 L1290.7,462.4 L1293.6,462.3 L1296.6,462.1 L1299.6,462.7 L1302.6,463.2 L1305.5,464.2 L1308.5,465.0 L1311.5,464.4 L1314.5,465.9 L1317.4,466.5 L1320.4,466.4 L1323.4,467.2 L1326.4,467.2 L1329.4,468.7 L1332.3,468.2 L1335.3,470.3 L1338.3,470.6 L1341.3,470.9 L1344.2,471.0 L1347.2,472.6 L1350.2,473.3 L1353.2,472.6 L1356.1,474.2 L1359.1,474.9 L1362.1,475.2 L1365.1,475.9 L1368.0,476.1 L1371.0,477.4 L1374.0,478.1 L1377.0,477.7 L1380.0,478.9 L1382.9,478.8 L1385.9,478.9 L1388.9,479.7 L1391.9,479.9 L1394.8,481.7 L1397.8,482.3 L1400.8,481.5 L1403.8,482.8 L1406.8,483.0 L1409.7,483.0 L1412.7,483.8 L1415.7,484.2 L1418.7,485.6 L1421.6,484.9 L1424.6,485.7 L1427.6,486.6 L1430.5,486.5 L1433.5,488.0 L1436.5,488.5 L1439.4,489.4 L1442.4,489.0 L1445.4,489.7 L1448.3,490.6 L1451.3,490.8 L1454.2,491.8 L1457.2,491.8 L1460.2,493.0 L1463.1,493.7 L1466.1,494.2 L1469.1,494.9 L1472.0,494.7 L1475.0,495.0 L1478.2,496.0 L1481.5,496.3 L1484.9,496.3 L1488.3,496.4 L1491.7,496.6 L1495.2,496.6 L1498.6,498.1 L1502.0,497.3 L1505.3,498.6 L1508.6,498.5 L1511.8,499.5 L1514.9,499.4 L1517.8,500.0 L1520.6,498.9 L1523.3,499.8 L1525.7,500.1 L1529.8,500.2 L1533.0,500.9 L1535.6,501.0 L1537.9,501.6 L1540.1,501.1 L1542.7,502.0 L1545.9,502.3 L1550.0,502.4 L1552.4,502.7 L1555.1,503.4 L1557.9,503.4 L1560.8,503.2 L1563.9,503.5 L1567.1,503.2 L1570.3,503.0 L1573.7,502.7 L1577.1,503.3 L1580.5,503.9 L1583.9,504.4 L1587.3,504.5 L1590.7,504.1 L1594.1,505.0 L1597.4,504.3 L1600.6,505.0 L1603.8,504.5 L1606.9,505.3 L1610.1,505.9 L1613.2,505.0 L1616.4,505.1 L1619.5,506.0 L1622.6,506.1 L1625.8,506.1 L1628.9,505.8 L1632.1,506.7 L1635.2,507.0 L1638.4,507.2 L1641.5,508.2 L1644.7,508.0 L1647.8,508.5 L1651.0,508.9 L1654.2,508.9 L1657.3,508.7 L1660.5,509.2 L1663.7,509.2 L1666.8,509.4 L1670.0,509.5 L1673.2,509.3 L1676.4,509.8 L1679.5,509.9 L1682.7,510.5 L1685.9,510.4 L1689.0,510.7 L1692.2,510.7 L1695.4,510.9 L1698.5,510.8 L1701.7,510.6 L1704.9,510.6 L1708.0,511.6 L1711.1,512.0 L1714.3,511.8 L1717.4,511.4 L1720.6,512.7 L1723.7,512.4 L1726.8,512.6 L1730.0,512.2 L1733.1,513.2 L1736.3,513.9 L1739.4,513.6 L1742.5,513.7 L1745.7,514.4 L1748.8,513.6 L1752.0,514.6 L1755.2,515.5 L1758.3,515.3 L1761.5,515.0 L1764.7,515.6 L1767.8,515.6 L1771.0,515.1 L1774.2,515.2 L1777.4,516.5 L1780.6,515.6 L1783.7,515.4 L1786.9,516.8 L1790.1,516.5 L1793.3,516.4 L1796.5,516.8 L1799.6,517.3 L1802.8,516.6 L1806.0,517.5 L1809.1,517.9 L1812.3,518.2 L1815.5,517.6 L1818.6,518.4 L1821.8,518.0 L1825.0,518.8 L1828.1,518.4 L1831.3,519.6 L1834.4,520.0 L1837.6,519.4 L1840.8,519.5 L1843.9,520.9 L1847.1,520.7 L1850.2,521.2 L1853.4,520.1 L1856.6,521.8 L1859.7,521.6 L1862.9,521.3 L1866.1,521.8 L1869.2,522.5 L1872.4,522.8 L1875.5,522.1 L1878.7,523.0 L1881.9,522.5 L1885.0,524.1 L1888.2,523.5 L1891.4,524.4 L1894.5,524.4 L1897.7,524.4 L1900.8,524.1 L1904.0,524.7 L1907.2,524.3 L1910.3,524.6 L1913.5,525.7 L1916.7,525.4 L1919.8,526.3 L1923.0,525.7 L1926.1,526.7 L1929.3,526.9 L1932.5,526.5 L1935.6,526.4 L1938.8,527.0 L1942.0,527.4 L1945.1,526.9 L1948.3,527.2 L1951.4,527.2 L1954.6,528.2 L1957.8,528.7 L1960.9,527.7 L1964.1,527.5 L1967.2,528.6 L1970.4,528.9 L1973.5,529.1 L1976.6,528.6 L1979.8,528.2 L1982.9,529.0 L1986.1,527.8 L1989.2,528.7 L1992.4,527.8 L1995.5,528.3 L1998.7,528.4 L2001.8,528.3 L2005.0,528.0 L2008.2,528.1 L2011.4,529.1 L2014.7,528.5 L2017.9,528.8 L2021.2,528.2 L2024.5,529.1 L2027.8,528.5 L2031.0,528.9 L2034.3,529.5 L2037.5,529.6 L2040.7,528.2 L2043.8,529.4 L2046.9,529.5 L2049.9,528.7 L2052.8,528.8 L2055.7,529.1 L2059.2,529.7 L2062.8,528.9 L2066.4,529.6 L2069.9,529.5 L2073.4,528.5 L2076.9,529.7 L2080.1,528.3 L2083.3,528.5 L2086.2,529.3 L2088.8,528.3 L2091.2,528.8 L2093.3,528.4 L2095.0,529.0" fill="none" stroke="#0000ff" stroke-width="12" stroke-linejoin="round"/>
<g font-family="'Liberation Serif', serif" font-weight="bold" font-size="79.5" text-anchor="middle" fill="#000">
<text x="371.5" y="1494.5">100</text>
<text x="617.4" y="1494.5">200</text>
<text x="863.2" y="1494.5">300</text>
<text x="1109.0" y="1494.5">400</text>
<text x="1354.9" y="1494.5">500</text>
<text x="1600.8" y="1494.5">600</text>
<text x="1846.6" y="1494.5">700</text>
<text x="2092.4" y="1494.5">800</text>
</g>
<g font-family="'Liberation Serif', serif" font-weight="bold" font-size="107" fill="#000">
<text x="766" y="1648.5">Temperature (°C)</text>
<text transform="translate(107.8,1108) rotate(-90)" x="0" y="0">TCD Signal (a.u.)</text>
</g>
<g font-family="'Liberation Serif', serif" fill="#000">
<text x="1605.5" y="458.5" font-size="78"><tspan>Ni/K</tspan><tspan font-size="46" dy="30.5">2</tspan><tspan dy="-30.5">O-Al</tspan><tspan font-size="46" dy="30.5">2</tspan><tspan dy="-30.5">O</tspan><tspan font-size="46" dy="30.5">3</tspan></text>
<text x="1586" y="722.2" font-size="78"><tspan>Ni/Na</tspan><tspan font-size="46" dy="30.5">2</tspan><tspan dy="-30.5">O-Al</tspan><tspan font-size="46" dy="30.5">2</tspan><tspan dy="-30.5">O</tspan><tspan font-size="46" dy="30.5">3</tspan></text>
<text x="1612" y="928.2" font-size="78"><tspan>Ni/Li</tspan><tspan font-size="46" dy="30.5">2</tspan><tspan dy="-30.5">O-Al</tspan><tspan font-size="46" dy="30.5">2</tspan><tspan dy="-30.5">O</tspan><tspan font-size="46" dy="30.5">3</tspan></text>
<text x="1770.5" y="1202.3" font-size="78"><tspan>Ni/Al</tspan><tspan font-size="46" dy="30.5">2</tspan><tspan dy="-30.5">O</tspan><tspan font-size="46" dy="30.5">3</tspan></text>
</g>
</svg>
</body></html>
